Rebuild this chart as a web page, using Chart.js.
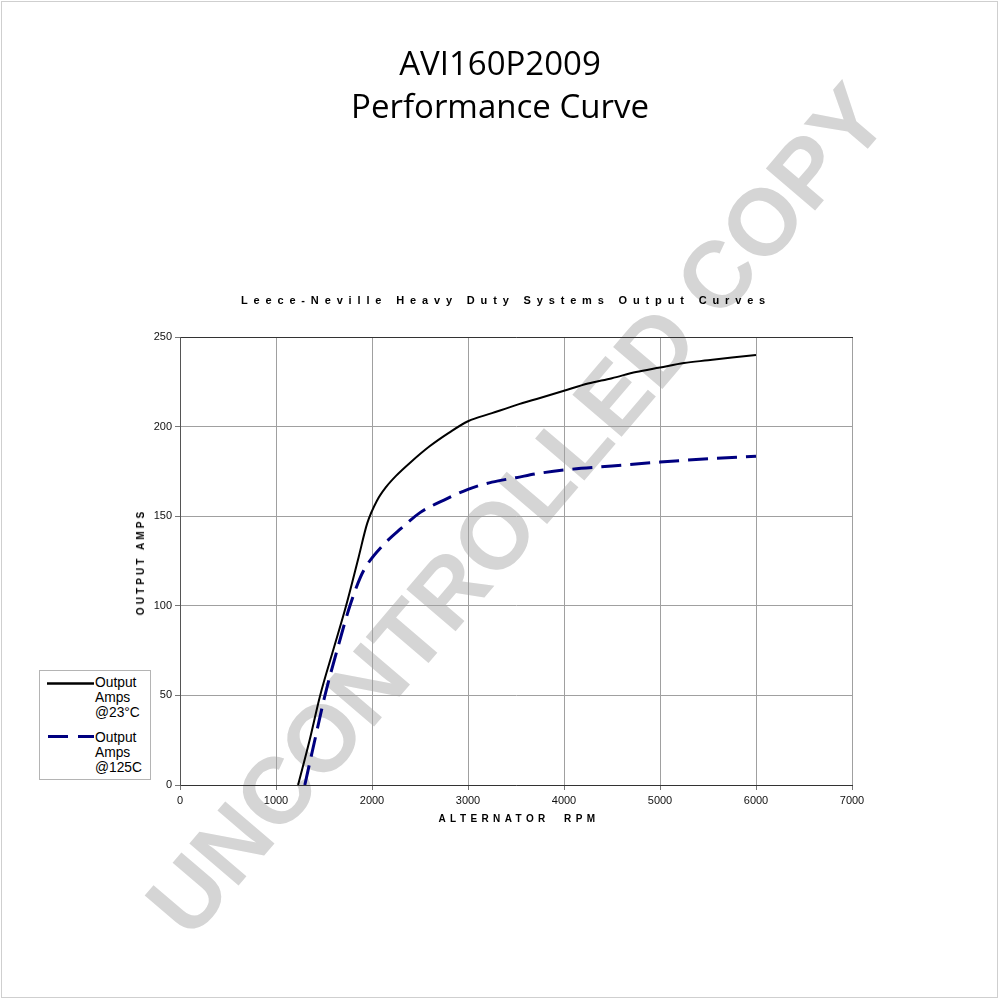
<!DOCTYPE html>
<html lang="en">
<head>
  <meta charset="UTF-8">
  <title>AVI160P2009 Performance Curve</title>
  <script src="https://cdn.jsdelivr.net/npm/chart.js"></script>
  <style>
    body { margin: 0; background: #fff; }
    #page {
      position: relative;
      width: 1000px;
      height: 1000px;
      overflow: hidden;
      font-family: 'Liberation Sans', Arial, sans-serif;
      color: #000;
    }
    .frame {
      position: absolute; left: 1px; top: 1px; width: 995px; height: 995px;
      border: 1px solid #cfcfcf;
    }
    .watermark {
      position: absolute; left: 517px; top: 510px;
      transform: translate(-50%, -50%) rotate(-49.5deg);
      font: bold 94px 'Liberation Sans', Arial, sans-serif;
      color: #d5d5d5;
      white-space: nowrap;
      z-index: 0;
    }
    #chart { position: absolute; left: 0; top: 0; z-index: 1; }
    .title {
      position: absolute; left: 0; top: 41px; width: 1000px;
      text-align: center;
      font: 33px 'Open Sans', sans-serif;
      line-height: 43px;
      z-index: 2;
    }
    .subtitle {
      position: absolute; left: 6px; top: 294px; width: 1000px;
      text-align: center;
      font: bold 11px 'Liberation Sans', Arial, sans-serif;
      line-height: 13px;
      letter-spacing: 5.85px;
      z-index: 2;
    }
    .xtitle {
      position: absolute; left: 519px; top: 813px;
      transform: translateX(-50%);
      font: bold 10px 'Liberation Sans', Arial, sans-serif;
      line-height: 12px;
      letter-spacing: 4.4px;
      white-space: pre;
      z-index: 2;
    }
    .ytitle {
      position: absolute; left: 141px; top: 562px;
      transform: translate(-50%, -50%) rotate(-90deg);
      font: bold 10px 'Liberation Sans', Arial, sans-serif;
      line-height: 12px;
      letter-spacing: 3.1px;
      white-space: pre;
      z-index: 2;
    }
    .legend {
      position: absolute; left: 39px; top: 670px; width: 110px; height: 108px;
      border: 1px solid #b4b4b4;
      background: #fff;
      z-index: 2;
    }
    .legend svg { position: absolute; left: 0; top: 0; }
    .legend .item {
      position: absolute; left: 55px;
      font: 13.8px 'Liberation Sans', Arial, sans-serif;
      line-height: 14.8px;
    }
  </style>
</head>
<body>
<div id="page">
  <div class="frame"></div>
  <div class="watermark">UNCONTROLLED COPY</div>
  <canvas id="chart" width="1000" height="1000"></canvas>

  <div class="title">AVI160P2009<br>Performance Curve</div>
  <div class="subtitle">Leece-Neville Heavy Duty Systems Output Curves</div>
  <div class="xtitle">ALTERNATOR  RPM</div>
  <div class="ytitle">OUTPUT AMPS</div>

  <div class="legend">
    <svg width="110" height="108">
      <line x1="7" y1="12.5" x2="54" y2="12.5" stroke="#000" stroke-width="2.5"/>
      <line x1="8" y1="65.5" x2="54" y2="65.5" stroke="#000080" stroke-width="3" stroke-dasharray="20 10"/>
    </svg>
    <div class="item" style="top:5px">Output<br>Amps<br>@23°C</div>
    <div class="item" style="top:60px">Output<br>Amps<br>@125C</div>
  </div>
</div>

<script>
  // curves (rpm, amps)
  const rpm23  = [1230, 1350, 1460, 1600, 1730, 1860, 1950, 2050, 2150, 2250, 2400, 2600, 2800, 3000, 3250, 3500, 3750, 4000, 4250, 4500, 4750, 5000, 5250, 5500, 5750, 6000];
  const amps23 = [0, 25, 50, 76, 100, 127, 146, 158.5, 166.5, 172.5, 180, 189, 196.5, 203, 207.5, 212, 216, 220, 224, 227, 230.5, 233, 235.5, 237, 238.5, 240];

  const rpm125  = [1300, 1400, 1510, 1640, 1770, 1880, 1950, 2100, 2300, 2500, 2750, 3000, 3250, 3500, 3750, 4000, 4500, 5000, 5500, 6000];
  const amps125 = [0, 24, 50, 76, 100, 116, 123, 133, 143, 152, 159, 165, 169, 171.5, 174, 175.8, 178, 180.2, 182, 183.5];

  const rpmTicks = [0, 1000, 2000, 3000, 4000, 5000, 6000, 7000];
  const ampTicks = [0, 50, 100, 150, 200, 250];

  function toPoints(xs, ys) {
    return xs.map(function (x, i) { return { x: x, y: ys[i] }; });
  }

  const tickFont = { family: "'Liberation Sans', Arial, sans-serif", size: 11 };

  const ctx = document.getElementById('chart').getContext('2d');
  const chart = new Chart(ctx, {
    type: 'line',
    data: {
      datasets: [
        {
          label: 'Output Amps @23°C',
          data: toPoints(rpm23, amps23),
          borderColor: '#000000',
          borderWidth: 2,
          pointRadius: 0,
          cubicInterpolationMode: 'monotone'
        },
        {
          label: 'Output Amps @125C',
          data: toPoints(rpm125, amps125),
          borderColor: '#000080',
          borderWidth: 3,
          borderDash: [20, 9],
          pointRadius: 0,
          cubicInterpolationMode: 'monotone'
        }
      ]
    },
    options: {
      responsive: false,
      animation: false,
      layout: { padding: { left: 140, right: 148, top: 337, bottom: 185 } },
      plugins: {
        legend: { display: false },
        tooltip: { enabled: false }
      },
      scales: {
        x: {
          type: 'linear',
          min: rpmTicks[0],
          max: rpmTicks[rpmTicks.length - 1],
          afterBuildTicks: function (scale) {
            scale.ticks = rpmTicks.map(function (v) { return { value: v }; });
          },
          afterFit: function (scale) { scale.height = 30; },
          ticks: {
            font: tickFont, color: '#111', padding: 4, maxRotation: 0,
            callback: function (v) { return String(v); }
          },
          grid: { color: '#a0a0a0', tickLength: 5, tickColor: '#777' },
          border: { color: '#333', width: 1 }
        },
        x2: {
          type: 'linear',
          position: 'top',
          min: rpmTicks[0],
          max: rpmTicks[rpmTicks.length - 1],
          afterFit: function (scale) { scale.height = 0; },
          ticks: { display: false },
          grid: { drawOnChartArea: false, drawTicks: false },
          border: { color: '#333', width: 1 }
        },
        y: {
          min: ampTicks[0],
          max: ampTicks[ampTicks.length - 1],
          afterBuildTicks: function (scale) {
            scale.ticks = ampTicks.map(function (v) { return { value: v }; });
          },
          afterFit: function (scale) { scale.width = 40; },
          ticks: {
            font: tickFont, color: '#111', padding: 3,
            callback: function (v) { return String(v); }
          },
          grid: { color: '#a0a0a0', tickLength: 5, tickColor: '#777' },
          border: { color: '#555', width: 1 }
        }
      }
    }
  });
</script>
</body>
</html>
